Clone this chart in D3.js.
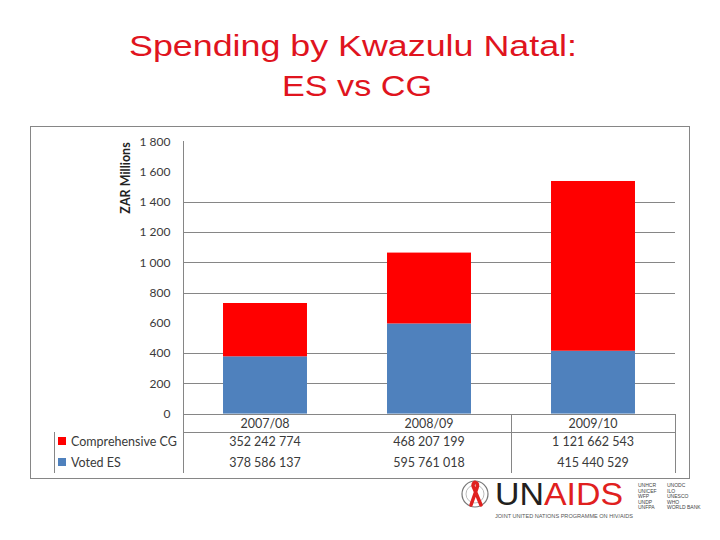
<!DOCTYPE html>
<html>
<head>
<meta charset="utf-8">
<script src="https://cdn.jsdelivr.net/npm/d3@7"></script>
<style>
  body { margin: 0; background: #fff; }
  svg { display: block; }
</style>
</head>
<body>
<div id="chart"></div>
<script>
// chart values (rand)
const years = ["2007/08", "2008/09", "2009/10"];
const seriesNames = ["Comprehensive CG", "Voted ES"];
const cgValues = [352242774, 468207199, 1121662543];
const esValues = [378586137, 595761018, 415440529];
const yTicks = [0, 200, 400, 600, 800, 1000, 1200, 1400, 1600, 1800];
const gridTicks = [0, 200, 400, 800, 1000, 1200, 1400];
const logoLeft = ["UNHCR", "UNICEF", "WFP", "UNDP", "UNFPA"];
const logoRight = ["UNODC", "ILO", "UNESCO", "WHO", "WORLD BANK"];

const W = 720, H = 540;
const RED = "#ff0000", BLUE = "#4f81bd", LINE = "#868686", TXT = "#3a3a3a";
const font = "Lato, 'Open Sans', sans-serif";

const loc = d3.formatLocale({decimal: ".", thousands: " ", grouping: [3], currency: ["", ""]});
const fmt = loc.format(",d");

const svg = d3.select("#chart").append("svg")
  .attr("width", W)
  .attr("height", H);

// title
const title = svg.append("text")
  .attr("text-anchor", "middle")
  .style("font-family", "'Liberation Sans', Arial, sans-serif")
  .style("font-size", "30px")
  .style("fill", "#e0141e");
title.append("tspan").attr("x", 353).attr("y", 56)
  .attr("textLength", 448).attr("lengthAdjust", "spacingAndGlyphs")
  .text("Spending by Kwazulu Natal:");
title.append("tspan").attr("x", 357).attr("y", 96)
  .attr("textLength", 150).attr("lengthAdjust", "spacingAndGlyphs")
  .text("ES vs CG");

// chart frame
svg.append("rect")
  .attr("x", 30.5).attr("y", 126.5)
  .attr("width", 659).attr("height", 352)
  .attr("fill", "none")
  .attr("stroke", LINE);

const x = d3.scaleBand()
  .domain(years)
  .range([183, 675])
  .paddingInner(0.488)
  .paddingOuter(0.244);

const y = d3.scaleLinear()
  .domain([0, 1800])
  .range([413.6, 141.2]);

// gridlines
svg.append("g")
  .selectAll("line")
  .data(gridTicks)
  .enter().append("line")
  .attr("x1", 183).attr("x2", 675)
  .attr("y1", d => Math.round(y(d)) + 0.5)
  .attr("y2", d => Math.round(y(d)) + 0.5)
  .attr("stroke", LINE);

// y axis
const yAxis = svg.append("g")
  .attr("transform", "translate(183.5,0)")
  .call(d3.axisLeft(y).tickValues(yTicks).tickSize(0).tickPadding(13).tickFormat(fmt));
yAxis.select(".domain").remove();
yAxis.selectAll("text")
  .style("font-family", font)
  .style("font-size", "12px")
  .style("fill", TXT);
svg.append("line")
  .attr("x1", 183.5).attr("x2", 183.5)
  .attr("y1", 141).attr("y2", 473)
  .attr("stroke", LINE);

svg.append("text")
  .attr("transform", "translate(130,178)rotate(-90)")
  .attr("text-anchor", "middle")
  .style("font-family", font)
  .style("font-weight", "bold")
  .style("font-size", "12.5px")
  .style("fill", "#222")
  .text("ZAR Millions");

// stacked bars (ES bottom, CG top)
const rows = years.map((yr, i) => ({year: yr, es: esValues[i] / 1e6, cg: cgValues[i] / 1e6}));
const stack = d3.stack().keys(["es", "cg"])(rows);
const colors = {es: BLUE, cg: RED};

svg.append("g")
  .selectAll("g")
  .data(stack)
  .enter().append("g")
  .attr("fill", d => colors[d.key])
  .selectAll("rect")
  .data(d => d)
  .enter().append("rect")
  .attr("x", d => x(d.data.year))
  .attr("width", x.bandwidth())
  .attr("y", d => y(d[1]))
  .attr("height", d => y(d[0]) - y(d[1]));

// data table
const step = x.step();
const colLeft = 183;
svg.append("line")
  .attr("x1", 183).attr("x2", 675)
  .attr("y1", 432.5).attr("y2", 432.5)
  .attr("stroke", LINE);
svg.append("line")
  .attr("x1", 54.5).attr("x2", 54.5)
  .attr("y1", 432).attr("y2", 473)
  .attr("stroke", LINE);
[2, 3].forEach(k => {
  const xx = Math.round(colLeft + k * step) + 0.5;
  svg.append("line")
    .attr("x1", xx).attr("x2", xx)
    .attr("y1", 414).attr("y2", 473)
    .attr("stroke", LINE);
});

svg.append("g")
  .selectAll("text")
  .data(years)
  .enter().append("text")
  .attr("x", d => x(d) + x.bandwidth() / 2)
  .attr("y", 428)
  .attr("text-anchor", "middle")
  .style("font-family", font)
  .style("font-size", "12.5px")
  .style("fill", TXT)
  .text(d => d);

const tableRows = [
  {name: seriesNames[0], color: RED, vals: cgValues, y: 446},
  {name: seriesNames[1], color: BLUE, vals: esValues, y: 467}
];
tableRows.forEach(r => {
  svg.append("rect")
    .attr("x", 58).attr("y", r.y - 9)
    .attr("width", 8).attr("height", 8)
    .attr("fill", r.color);
  svg.append("text")
    .attr("x", 71).attr("y", r.y)
    .style("font-family", font)
    .style("font-size", "12.5px")
    .style("fill", TXT)
    .text(r.name);
  svg.append("g")
    .selectAll("text")
    .data(r.vals)
    .enter().append("text")
    .attr("x", (d, i) => x(years[i]) + x.bandwidth() / 2)
    .attr("y", r.y)
    .attr("text-anchor", "middle")
    .style("font-family", font)
    .style("font-size", "12.5px")
    .style("fill", TXT)
    .text(d => fmt(d));
});

// UNAIDS logo (approximation)
const logo = svg.append("g");
logo.append("rect")
  .attr("x", 440).attr("y", 479).attr("width", 270).attr("height", 45)
  .attr("fill", "#fff");
logo.append("circle")
  .attr("cx", 475).attr("cy", 494).attr("r", 13)
  .attr("fill", "none").attr("stroke", "#777").attr("stroke-width", 1.2);
logo.append("circle")
  .attr("cx", 475).attr("cy", 494).attr("r", 9)
  .attr("fill", "none").attr("stroke", "#aaa").attr("stroke-width", 0.8);
logo.append("path")
  .attr("d", "M471,505 L477,488 C479,482 473,480 473,486 L481,505")
  .attr("fill", "none").attr("stroke", "#e0201e").attr("stroke-width", 3.5)
  .attr("stroke-linecap", "round");
const un = logo.append("text")
  .attr("x", 495).attr("y", 505)
  .attr("textLength", 128)
  .attr("lengthAdjust", "spacingAndGlyphs")
  .style("font-family", "'Liberation Sans', Arial, sans-serif")
  .style("font-size", "31px");
un.append("tspan").attr("fill", "#231f20").text("UN");
un.append("tspan").attr("fill", "#e0201e").text("AIDS");
logo.append("text")
  .attr("x", 495).attr("y", 518)
  .attr("textLength", 138)
  .attr("lengthAdjust", "spacingAndGlyphs")
  .style("font-family", "'Liberation Sans', Arial, sans-serif")
  .style("font-size", "4.5px")
  .style("fill", "#555")
  .text("JOINT UNITED NATIONS PROGRAMME ON HIV/AIDS");
[[logoLeft, 638], [logoRight, 667]].forEach(([list, lx]) => {
  logo.append("g")
    .selectAll("text")
    .data(list)
    .enter().append("text")
    .attr("x", lx)
    .attr("y", (d, i) => 487 + i * 5.6)
    .style("font-family", "'Liberation Sans', Arial, sans-serif")
    .style("font-size", "5px")
    .style("fill", "#444")
    .text(d => d);
});
</script>
</body>
</html>
